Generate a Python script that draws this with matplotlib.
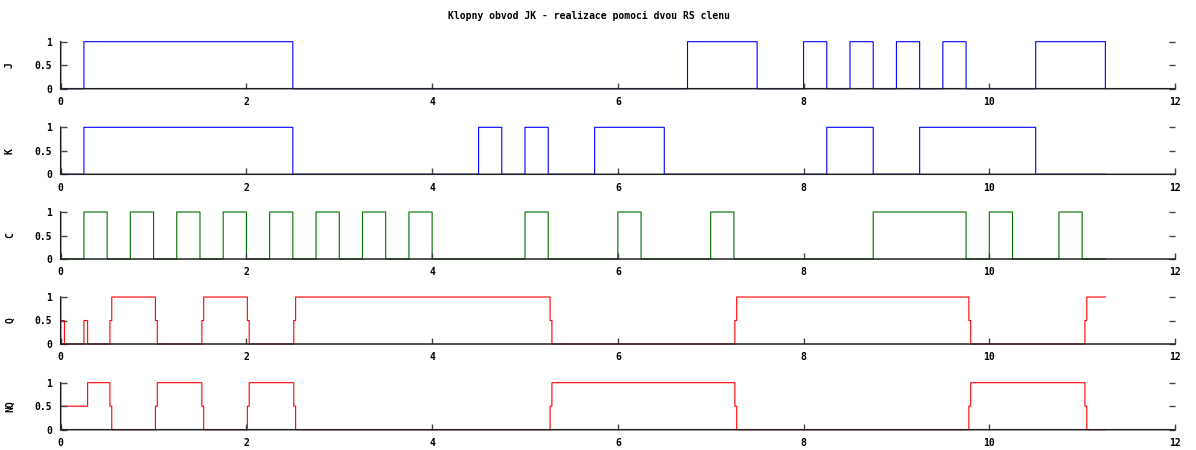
import matplotlib
matplotlib.use('Agg')
import matplotlib.pyplot as plt

title = "Klopny obvod JK - realizace pomoci dvou RS clenu"

# casy zmen a urovne signalu (schodovite, hodnota plati od casu dal)
j_t = [0, 0.25, 2.5, 6.75, 7.5, 8.0, 8.25, 8.5, 8.75, 9.0, 9.25, 9.5, 9.75, 10.5, 11.25]
j_v = [0, 1, 0, 1, 0, 1, 0, 1, 0, 1, 0, 1, 0, 1, 0]

k_t = [0, 0.25, 2.5, 4.5, 4.75, 5.0, 5.25, 5.75, 6.5, 8.25, 8.75, 9.25, 10.5, 11.25]
k_v = [0, 1, 0, 1, 0, 1, 0, 1, 0, 1, 0, 1, 0, 0]

c_t = [0, 0.25, 0.5, 0.75, 1.0, 1.25, 1.5, 1.75, 2.0, 2.25, 2.5, 2.75, 3.0, 3.25, 3.5,
       3.75, 4.0, 5.0, 5.25, 6.0, 6.25, 7.0, 7.25, 8.75, 9.75, 10.0, 10.25, 10.75, 11.0, 11.25]
c_v = [0, 1, 0, 1, 0, 1, 0, 1, 0, 1, 0, 1, 0, 1, 0,
       1, 0, 1, 0, 1, 0, 1, 0, 1, 0, 1, 0, 1, 0, 0]

q_t = [0, 0.04, 0.25, 0.29, 0.53, 0.55, 1.02, 1.04, 1.52, 1.54, 2.01, 2.03, 2.51, 2.53,
       5.27, 5.29, 7.26, 7.28, 9.78, 9.80, 11.03, 11.05, 11.25]
q_v = [0.5, 0, 0.5, 0, 0.5, 1, 0.5, 0, 0.5, 1, 0.5, 0, 0.5, 1,
       0.5, 0, 0.5, 1, 0.5, 0, 0.5, 1, 1]

nq_t = [0, 0.29, 0.53, 0.55, 1.02, 1.04, 1.52, 1.54, 2.01, 2.03, 2.51, 2.53,
        5.27, 5.29, 7.26, 7.28, 9.78, 9.80, 11.03, 11.05, 11.25]
nq_v = [0.5, 1, 0.5, 0, 0.5, 1, 0.5, 0, 0.5, 1, 0.5, 0,
        0.5, 1, 0.5, 0, 0.5, 1, 0.5, 0, 0]

signals = [("J", j_t, j_v, "#0000ff"),
           ("K", k_t, k_v, "#0000ff"),
           ("C", c_t, c_v, "#007000"),
           ("Q", q_t, q_v, "#ff0000"),
           ("NQ", nq_t, nq_v, "#ff0000")]

W, H = 1196, 450
font = dict(family="DejaVu Sans Mono", weight="bold", size=7)

fig = plt.figure(figsize=(W / 100, H / 100), dpi=100)
fig.text(589 / W, 1 - 16 / H, title, ha="center", va="center", **font)

left_px, right_px = 60.7, 1175.0
tops = [41.7, 127.3, 212.0, 297.0, 382.7]   # pixel y of level 1
panel_h = 47.0

for (name, t, v, col), top in zip(signals, tops):
    ax = fig.add_axes([left_px / W, 1 - (top + panel_h) / H,
                       (right_px - left_px) / W, panel_h / H])
    ln, = ax.step(t, v, where="post", color=col, lw=0.8, clip_on=False, zorder=1)
    ln.set_snap(False)
    ax.set_xlim(0, 12)
    ax.set_ylim(0, 1)
    ax.set_xticks(range(0, 13, 2))
    ax.set_yticks([0, 0.5, 1])
    ax.set_yticklabels(["0", "0.5", "1"])
    for s in ["top", "right"]:
        ax.spines[s].set_visible(False)
    for s in ["left", "bottom"]:
        ax.spines[s].set_color("#222222")
        ax.spines[s].set_linewidth(1.1)
        ax.spines[s].set_zorder(5)
        ax.spines[s].set_snap(False)
    ax.tick_params(axis="both", direction="in", length=4, width=1, color="#444444",
                   labelsize=7, pad=6)
    ax.tick_params(axis="y", right=True, labelright=False)
    for lab in ax.get_xticklabels() + ax.get_yticklabels():
        lab.set_fontfamily("DejaVu Sans Mono")
        lab.set_fontweight("bold")
    ax.set_ylabel(name, **font)
    ax.yaxis.set_label_coords(-(left_px - 15) / (right_px - left_px), 0.5)

fig.savefig("out.png", dpi=100)
